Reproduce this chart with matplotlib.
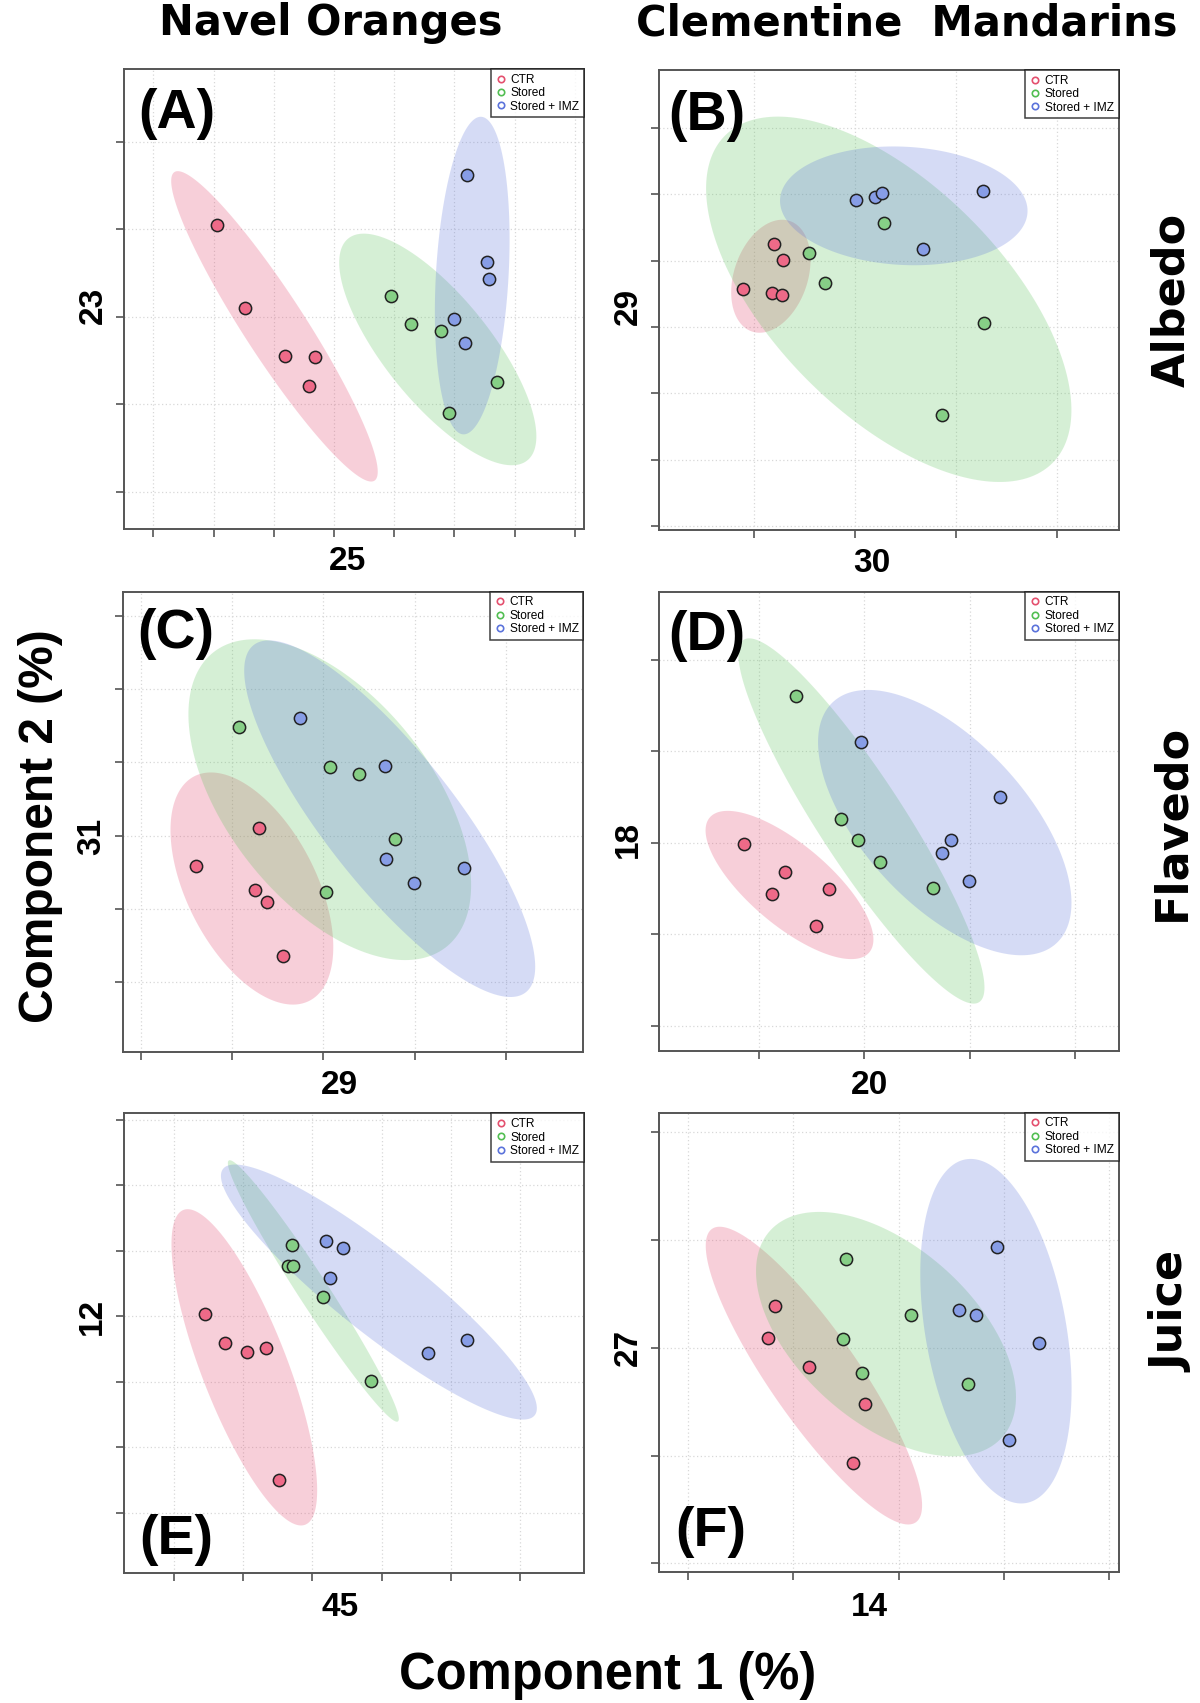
import numpy as np
import matplotlib
matplotlib.use("Agg")
import matplotlib.pyplot as plt
from matplotlib.lines import Line2D

W, H = 1200, 1703
DPI = 100

groups = ["CTR", "Stored", "Stored + IMZ"]
col_titles = ["Navel Oranges", "Clementine  Mandarins"]
row_titles = ["Albedo", "Flavedo", "Juice"]
panel_letters = ["(A)", "(B)", "(C)", "(D)", "(E)", "(F)"]
comp1_labels = ["25", "30", "29", "20", "45", "14"]   # Component 1 (%)
comp2_labels = ["23", "29", "31", "18", "12", "27"]   # Component 2 (%)

# ---- scores (Component 1, Component 2) in tick units, one array per group ----
# (A) Navel oranges - albedo
a_ctr_x = [1.062, 1.527, 2.191, 2.689, 2.590]
a_ctr_y = [3.051, 2.103, 1.551, 1.539, 1.205]
a_sto_x = [3.946, 4.283, 4.781, 5.700, 4.904]
a_sto_y = [2.233, 1.913, 1.837, 1.250, 0.896]
a_imz_x = [5.203, 5.535, 5.578, 4.987, 5.169]
a_imz_y = [3.623, 2.625, 2.434, 1.970, 1.699]
# (B) Clementine mandarins - albedo
b_ctr_x = [0.201, 0.293, -0.103, 0.183, 0.279]
b_ctr_y = [4.253, 4.007, 3.570, 3.510, 3.475]
b_sto_x = [1.285, 0.551, 0.706, 2.277, 1.861]
b_sto_y = [4.569, 4.113, 3.665, 3.063, 1.668]
b_imz_x = [1.013, 1.197, 1.274, 2.269, 1.670]
b_imz_y = [4.907, 4.961, 5.021, 5.051, 4.177]
# (C) Navel oranges - flavedo
c_ctr_x = [1.290, 0.599, 1.249, 1.384, 1.556]
c_ctr_y = [2.108, 1.585, 1.253, 1.089, 0.351]
c_sto_x = [1.077, 2.068, 2.386, 2.787, 2.027]
c_sto_y = [3.488, 2.937, 2.846, 1.958, 1.225]
c_imz_x = [1.742, 2.674, 2.688, 2.988, 3.536]
c_imz_y = [3.611, 2.955, 1.684, 1.348, 1.557]
# (D) Clementine mandarins - flavedo
d_ctr_x = [-0.142, 0.251, 0.125, 0.668, 0.546]
d_ctr_y = [1.991, 1.678, 1.444, 1.495, 1.087]
d_sto_x = [0.353, 0.776, 0.936, 1.149, 1.648]
d_sto_y = [3.610, 2.261, 2.031, 1.787, 1.506]
d_imz_x = [0.969, 2.291, 1.823, 1.742, 1.993]
d_imz_y = [3.103, 2.498, 2.031, 1.892, 1.583]
# (E) Navel oranges - juice
e_ctr_x = [0.456, 0.741, 1.058, 1.328, 1.516]
e_ctr_y = [3.040, 2.597, 2.451, 2.512, 0.504]
e_sto_x = [1.712, 1.646, 1.727, 2.151, 2.844]
e_sto_y = [4.090, 3.765, 3.765, 3.300, 2.017]
e_imz_x = [2.199, 2.448, 2.256, 3.675, 4.234]
e_imz_y = [4.156, 4.044, 3.586, 2.435, 2.634]
# (F) Clementine mandarins - juice
f_ctr_x = [0.822, 0.757, 1.148, 1.678, 1.569]
f_ctr_y = [2.388, 2.088, 1.825, 1.481, 0.928]
f_sto_x = [1.500, 2.119, 1.474, 1.653, 2.656]
f_sto_y = [2.821, 2.302, 2.082, 1.766, 1.664]
f_imz_x = [2.937, 2.574, 2.733, 3.338, 3.046]
f_imz_y = [2.935, 2.348, 2.304, 2.042, 1.142]

panel_data = [
    [(a_ctr_x, a_ctr_y), (a_sto_x, a_sto_y), (a_imz_x, a_imz_y)],
    [(b_ctr_x, b_ctr_y), (b_sto_x, b_sto_y), (b_imz_x, b_imz_y)],
    [(c_ctr_x, c_ctr_y), (c_sto_x, c_sto_y), (c_imz_x, c_imz_y)],
    [(d_ctr_x, d_ctr_y), (d_sto_x, d_sto_y), (d_imz_x, d_imz_y)],
    [(e_ctr_x, e_ctr_y), (e_sto_x, e_sto_y), (e_imz_x, e_imz_y)],
    [(f_ctr_x, f_ctr_y), (f_sto_x, f_sto_y), (f_imz_x, f_imz_y)],
]

# ---- layout (pixels) ----
boxes = [  # left, right, top, bottom
    (124, 584, 69, 529.5),
    (658.6, 1118.6, 70, 530),
    (122.7, 583.3, 591.7, 1051.7),
    (658.6, 1118.6, 591.7, 1051),
    (124, 584, 1113.3, 1572.7),
    (658.6, 1118.6, 1112.7, 1571.7),
]
limits = [  # xlim, ylim in tick units
    ((-0.486, 7.15), (-0.432, 4.831)),
    ((-0.939, 3.608), (-0.060, 6.870)),
    ((-0.200, 4.847), (-0.952, 5.332)),
    ((-0.953, 3.414), (-0.277, 4.747)),
    ((-0.717, 5.923), (-0.917, 6.102)),
    ((-0.282, 4.092), (-0.078, 4.182)),
]
nticks = [(8, 5), (4, 7), (5, 6), (4, 5), (6, 7), (5, 5)]
xlab_pos = [(348, 561), (872, 563), (339, 1086), (869, 1086), (340, 1608), (869, 1608)]
ylab_pos = [(93, 305), (628, 306), (92, 836), (628, 839), (92, 1316), (628, 1347)]
letter_pos = [(177, 114), (707, 116), (176, 634), (707, 636), (176, 1540), (711, 1532)]

fill_cols = ["#E3436B", "#5BC35B", "#5B73DB"]
pt_cols = ["#EE6A88", "#86CF86", "#879DE6"]
leg_cols = ["#E4506E", "#52BE52", "#5B73DB"]
CHI2_95 = 5.991


def conf_ellipse(x, y, n=240):
    pts = np.column_stack([x, y])
    mu = pts.mean(axis=0)
    cov = np.cov(pts.T)
    vals, vecs = np.linalg.eigh(cov)
    t = np.linspace(0, 2 * np.pi, n)
    circ = np.vstack([np.cos(t), np.sin(t)])
    e = vecs @ (np.sqrt(CHI2_95 * np.clip(vals, 0, None))[:, None] * circ)
    return mu[0] + e[0], mu[1] + e[1]


def fx(px):
    return px / W


def fy(py):
    return 1 - py / H


fig = plt.figure(figsize=(W / DPI, H / DPI), dpi=DPI)
fig.patch.set_facecolor("white")

LIB = ["Liberation Sans", "DejaVu Sans"]
DJV = ["DejaVu Sans"]

for i in range(6):
    L, R, T, B = boxes[i]
    ax = fig.add_axes([fx(L), fy(B), (R - L) / W, (B - T) / H])
    ax.set_xlim(*limits[i][0])
    ax.set_ylim(*limits[i][1])
    ax.set_xticks(np.arange(nticks[i][0]))
    ax.set_yticks(np.arange(nticks[i][1]))
    ax.tick_params(direction="out", length=6, width=1.2, color="#555555",
                   labelbottom=False, labelleft=False)
    ax.grid(True, ls=(0, (1, 2)), color="#d8d8d8", lw=0.9)
    ax.set_axisbelow(True)
    for s in ax.spines.values():
        s.set_color("#555555")
        s.set_linewidth(1.4)

    for g, (gx, gy) in enumerate(panel_data[i]):
        ex, ey = conf_ellipse(gx, gy)
        ax.fill(ex, ey, color=fill_cols[g], alpha=0.25, lw=0, zorder=2)
    for g, (gx, gy) in enumerate(panel_data[i]):
        ax.scatter(gx, gy, s=78, c=pt_cols[g], edgecolors="#222222",
                   linewidths=1.1, zorder=4)

    handles = [Line2D([], [], ls="", marker="o", markersize=4.6,
                      markerfacecolor="none", markeredgecolor=leg_cols[g],
                      markeredgewidth=1.2) for g in range(3)]
    leg = ax.legend(handles, groups, loc="upper right", borderaxespad=0,
                    frameon=True, fancybox=False,
                    handlelength=0.9, handletextpad=0.35, labelspacing=0.12,
                    borderpad=0.4, prop={"family": LIB, "size": 8.6})
    leg.get_frame().set_edgecolor("#111111")
    leg.get_frame().set_linewidth(1.1)
    leg.set_zorder(6)

    fig.text(fx(letter_pos[i][0]), fy(letter_pos[i][1]), panel_letters[i],
             family=LIB, fontsize=40, fontweight="bold", ha="center", va="center")
    fig.text(fx(xlab_pos[i][0]), fy(xlab_pos[i][1]), comp1_labels[i],
             family=LIB, fontsize=24, fontweight="bold", ha="center", va="center")
    fig.text(fx(ylab_pos[i][0]), fy(ylab_pos[i][1]), comp2_labels[i],
             family=LIB, fontsize=24, fontweight="bold", ha="center", va="center",
             rotation=90)

# column titles
fig.text(fx(331), fy(35), col_titles[0], family=DJV, fontsize=30,
         fontweight="bold", ha="center", va="baseline")
fig.text(fx(907), fy(35), col_titles[1], family=DJV, fontsize=30,
         fontweight="bold", ha="center", va="baseline")
# row titles
for (yc, t) in zip([300, 822, 1312], row_titles):
    fig.text(fx(1172), fy(yc), t, family=DJV, fontsize=32, fontweight="bold",
             ha="center", va="center", rotation=90)
# global axis titles
fig.text(fx(41), fy(826), "Component 2 (%)", family=LIB, fontsize=34.5,
         fontweight="bold", ha="center", va="center", rotation=90)
fig.text(fx(608), fy(1676), "Component 1 (%)", family=LIB, fontsize=36.5,
         fontweight="bold", ha="center", va="center")

fig.savefig("out.png", dpi=DPI, facecolor="white")
